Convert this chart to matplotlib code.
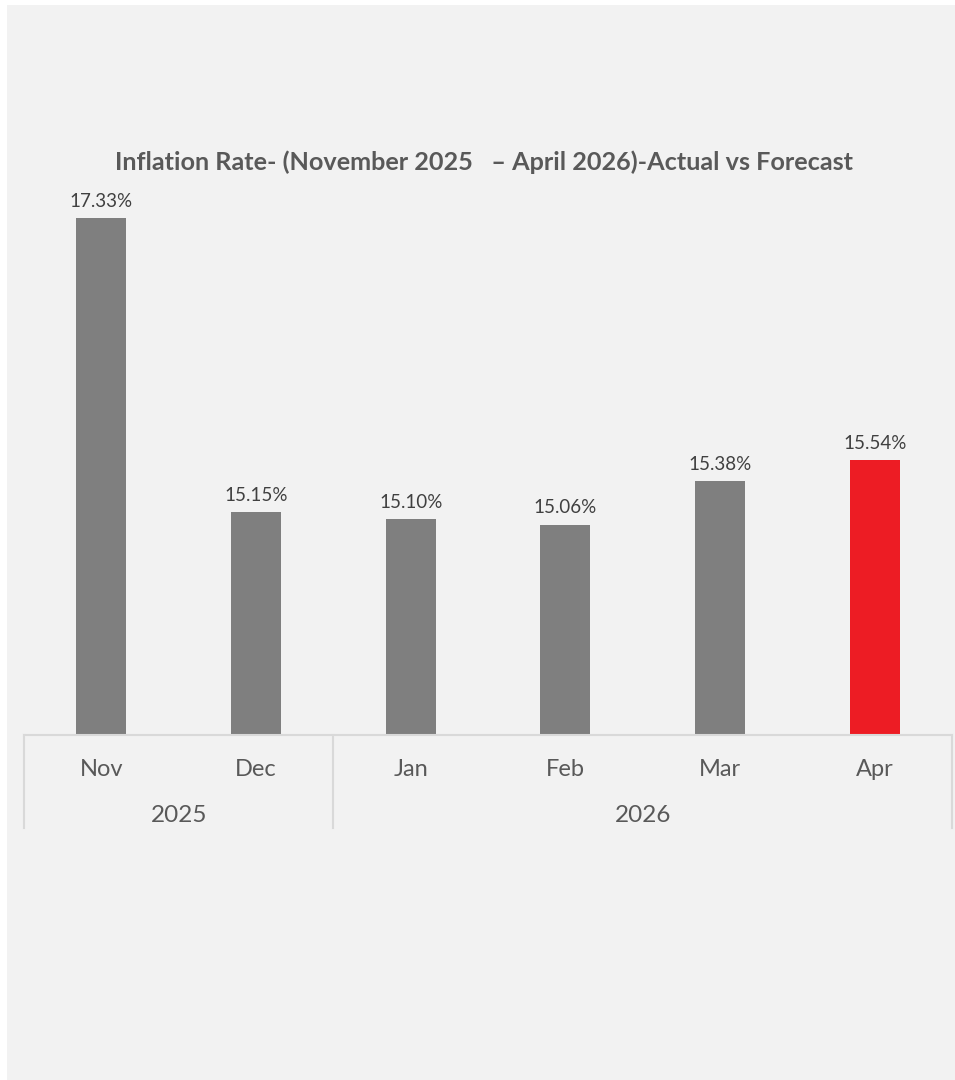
import matplotlib.pyplot as plt
import matplotlib.transforms as mtransforms
from matplotlib.patches import Rectangle

months = ['Nov', 'Dec', 'Jan', 'Feb', 'Mar', 'Apr']
years = ['2025', '2026']
months_per_year = [2, 4]
inflation = [17.33, 15.15, 15.10, 15.06, 15.38, 15.54]
bar_colors = ['#7f7f7f', '#7f7f7f', '#7f7f7f', '#7f7f7f', '#7f7f7f', '#ed1c24']

plt.rcParams['font.family'] = ['Lato', 'DejaVu Sans']

W, H = 955, 1080
fig = plt.figure(figsize=(W / 100, H / 100), dpi=100, facecolor='white')
fig.patches.append(Rectangle((7 / W, 0), 1 - 7 / W, 1 - 5 / H, transform=fig.transFigure,
                             facecolor='#f2f2f2', edgecolor='none', zorder=-10))

# plot area in pixels: x 24..952, baseline at y=735
ax = fig.add_axes([24 / W, (H - 735) / H, 928 / W, 539.6 / H])
ax.set_zorder(5)
ax.set_facecolor('none')
x = range(len(months))
ax.bar(x, inflation, width=0.323, color=bar_colors, bottom=0)
ax.set_ylim(13.5, 17.5)
ax.set_xlim(-0.5, len(months) - 0.5)
for i, v in enumerate(inflation):
    ax.text(i, v + 0.06, f'{v:.2f}%', ha='center', va='bottom', fontsize=13.5, color='#404040')

for s in ax.spines.values():
    s.set_visible(False)
ax.set_xticks([])
ax.set_yticks([])

# two-level category axis
line_c = '#d9d9d9'
tr = mtransforms.blended_transform_factory(ax.transData, ax.transAxes)
depth = 93 / 539.6
ax.plot([-0.5, len(months) - 0.5], [0, 0], color=line_c, lw=1.5, transform=tr, clip_on=False)
edges = [-0.5]
for n in months_per_year:
    edges.append(edges[-1] + n)
for e in edges:
    ax.plot([e, e], [0, -depth], color=line_c, lw=1.5, transform=tr, clip_on=False)
for i, m in enumerate(months):
    ax.text(i, -35 / 539.6, m, ha='center', va='center', fontsize=17, color='#595959', transform=tr)
for j, y in enumerate(years):
    ax.text((edges[j] + edges[j + 1]) / 2, -81 / 539.6, y, ha='center', va='center',
            fontsize=17.5, color='#595959', transform=tr)

fig.text(484 / W, 1 - 162 / H, 'Inflation Rate- (November 2025   – April 2026)-Actual vs Forecast',
         ha='center', va='center', fontsize=18.2, fontweight='bold', color='#595959')

fig.savefig('out.png', dpi=100, facecolor='white')
